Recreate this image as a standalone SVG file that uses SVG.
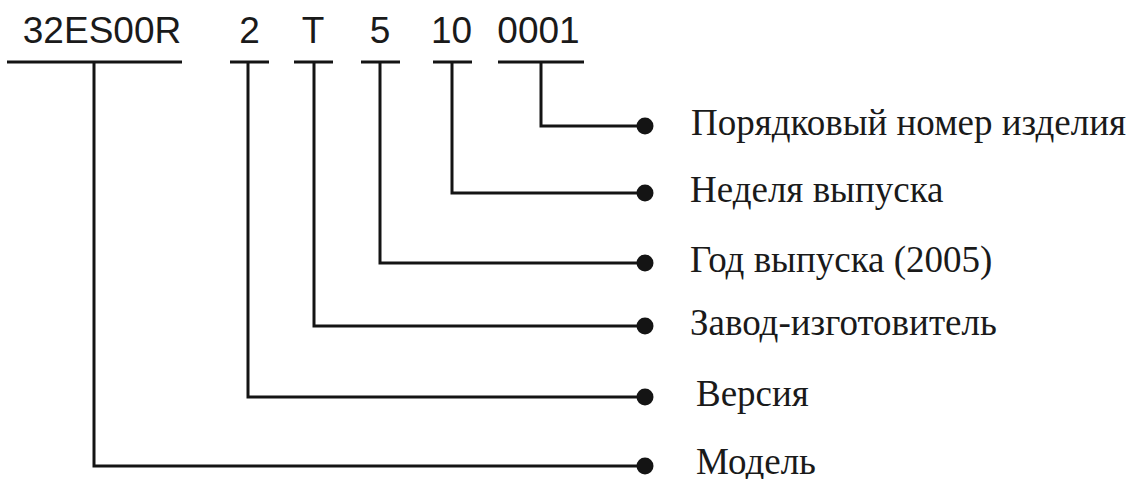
<svg xmlns="http://www.w3.org/2000/svg" width="1132" height="479" viewBox="0 0 1132 479">
<style>
.code{font-family:"Liberation Sans",Arial,sans-serif;font-size:37px;fill:#1a1a1a;text-anchor:middle}
.lbl{font-family:"Liberation Serif","Times New Roman",serif;font-size:37px;fill:#1a1a1a}
.ln{stroke:#141414;stroke-width:3;fill:none}
.dot{fill:#141414}
</style>
<rect width="1132" height="479" fill="#fff"/>
<g id="codes">
<g id="code-model"><text class="code" x="102" y="43">32ES00R</text><line class="ln" x1="7" y1="62" x2="182" y2="62"/></g>
<g id="code-version"><text class="code" x="249.5" y="43">2</text><line class="ln" x1="230" y1="62" x2="269" y2="62"/></g>
<g id="code-plant"><text class="code" x="313" y="43">T</text><line class="ln" x1="294" y1="62" x2="333" y2="62"/></g>
<g id="code-year"><text class="code" x="380" y="43">5</text><line class="ln" x1="361" y1="62" x2="400" y2="62"/></g>
<g id="code-week"><text class="code" x="451.5" y="43">10</text><line class="ln" x1="433" y1="62" x2="472" y2="62"/></g>
<g id="code-serial"><text class="code" x="538.5" y="43">0001</text><line class="ln" x1="498" y1="62" x2="584" y2="62"/></g>
</g>
<g id="connectors">
<polyline class="ln" points="541,62 541,126 644,126"/>
<polyline class="ln" points="452,62 452,193 644,193"/>
<polyline class="ln" points="380,62 380,263 644,263"/>
<polyline class="ln" points="314,62 314,326 644,326"/>
<polyline class="ln" points="248,62 248,397 644,397"/>
<polyline class="ln" points="94,62 94,466 644,466"/>
<circle class="dot" cx="645" cy="126" r="8.5"/>
<circle class="dot" cx="645" cy="193" r="8.5"/>
<circle class="dot" cx="645" cy="263" r="8.5"/>
<circle class="dot" cx="645" cy="326" r="8.5"/>
<circle class="dot" cx="645" cy="397" r="8.5"/>
<circle class="dot" cx="645" cy="466" r="8.5"/>
</g>
<g id="label-serial"><text class="lbl" x="691" y="135">Порядковый номер изделия</text></g>
<g id="label-week"><text class="lbl" x="690" y="202">Неделя выпуска</text></g>
<g id="label-year"><text class="lbl" x="690" y="272">Год выпуска (2005)</text></g>
<g id="label-plant"><text class="lbl" x="690" y="335">Завод-изготовитель</text></g>
<g id="label-version"><text class="lbl" x="696" y="406">Версия</text></g>
<g id="label-model"><text class="lbl" x="696" y="474">Модель</text></g>
</svg>
